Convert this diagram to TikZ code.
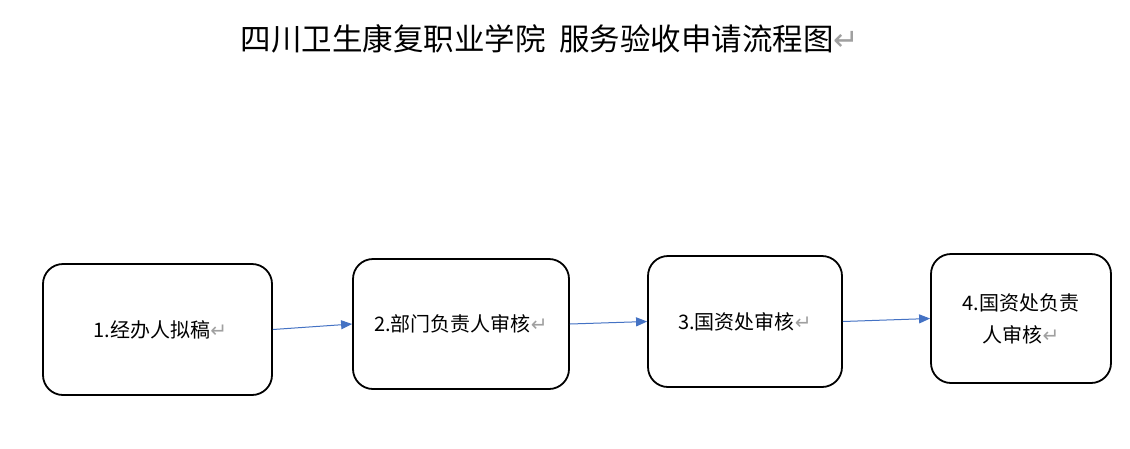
\documentclass[tikz,border=0pt]{standalone}
\usepackage{fontspec}
\setmainfont{Noto Sans CJK SC}
\newfontfamily\symfont{DejaVu Sans}
\usetikzlibrary{arrows.meta}
\definecolor{arrowblue}{HTML}{4472C4}
\definecolor{markgray}{HTML}{A0A0A0}
\newcommand{\pmark}{{\symfont\color{markgray}↵}}
\tikzset{
  stepbox/.style={draw=black, line width=1.8pt, rounded corners=20pt, fill=white, inner sep=0pt, font=\fontsize{20}{32}\selectfont, align=center},
  flow/.style={draw=arrowblue, line width=1pt, -{Triangle[length=11pt,width=9pt]}}
}
\begin{document}
\begin{tikzpicture}[x=1pt,y=-1pt]
\useasboundingbox[fill=white] (0,0) rectangle (1130,448);
\node[font=\fontsize{30.5}{34}\selectfont] (title) at (550,39) {四川卫生康复职业学院\hspace{0.45em}服务验收申请流程图\pmark};
\node[stepbox, minimum width=229pt, minimum height=131pt] (b1) at (157.5,329.5) {\hspace{6pt}1.经办人拟稿\pmark};
\node[stepbox, minimum width=216pt, minimum height=130pt] (b2) at (461,324) {2.部门负责人审核\pmark};
\node[stepbox, minimum width=194pt, minimum height=131pt] (b3) at (745,321.5) {3.国资处审核\pmark};
\node[stepbox, minimum width=180pt, minimum height=129pt] (b4) at (1021,318.5) {4.国资处负责\\人审核\pmark};
\draw[flow] (b1.east) -- (b2.west);
\draw[flow] (b2.east) -- (b3.west);
\draw[flow] (b3.east) -- (b4.west);
\end{tikzpicture}
\end{document}
